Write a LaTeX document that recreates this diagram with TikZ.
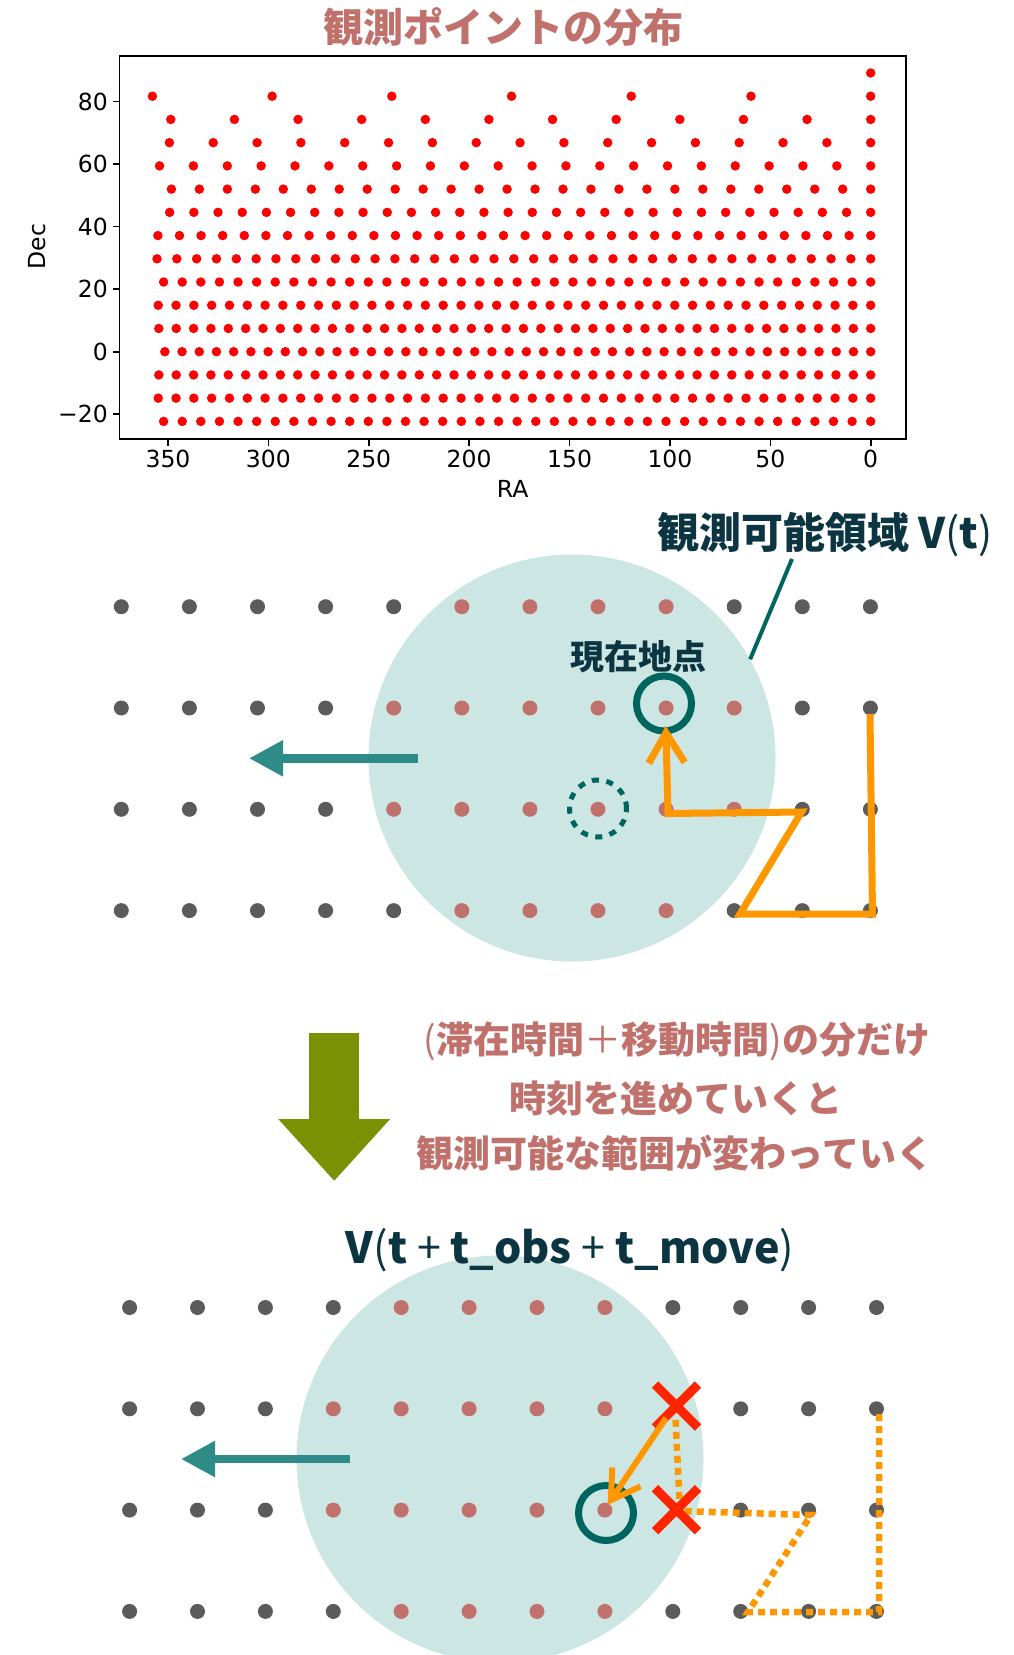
\documentclass[tikz,border=0pt]{standalone}
\usepackage{fontspec}
\usetikzlibrary{arrows.meta,shapes.misc}
\newfontfamily\jp{Noto Sans CJK JP}
\newfontfamily\plotfont{DejaVu Sans}
\newcommand\thinch[1]{{\mdseries #1}}
\definecolor{rose}{HTML}{C0716C}
\definecolor{gdot}{HTML}{5B5B5B}
\definecolor{fillc}{HTML}{CCE6E4}
\definecolor{tealarrow}{HTML}{2E8B87}
\definecolor{darktxt}{HTML}{0B3541}
\definecolor{darkteal}{HTML}{00655F}
\definecolor{orng}{HTML}{FF9800}
\definecolor{olivec}{HTML}{7A9103}
\definecolor{xred}{HTML}{FF2400}
\begin{document}
\begin{tikzpicture}[x=1pt,y=-1pt,
  dot/.style={circle, fill=#1, inner sep=0pt, minimum size=15pt},
  visarea/.style={circle, fill=fillc, inner sep=0pt, minimum size=407pt},
  curpos/.style={circle, draw=darkteal, line width=7pt, inner sep=0pt, minimum size=55pt},
  movearrow/.style={tealarrow, line width=8.4pt, -{Triangle[length=34pt,width=34pt]}},
  route/.style={orng, line width=7pt, line join=miter},
  xmark/.style={draw=xred, cross out, line width=9pt, inner sep=0pt, minimum size=34pt},
  jptitle/.style={font=\jp\bfseries\fontsize{40pt}{48pt}\selectfont, text=rose},
  jpnote/.style={font=\jp\bfseries\fontsize{37pt}{44pt}\selectfont, text=rose},
  darklabel/.style={font=\jp\bfseries\fontsize{#1}{#1}\selectfont, text=darktxt},
  ticklab/.style={font=\plotfont\fontsize{23.5pt}{28pt}\selectfont, inner sep=0pt}
]
\useasboundingbox (0,0) rectangle (1014,1655);
\begin{scope}
\clip (0,0) rectangle (1014,1655);

% ---------- title ----------
\node[jptitle] (title) at (503,27) {観測ポイントの分布};

% ---------- scatter plot ----------
\foreach \k in {-3,...,12}{
  \pgfmathsetmacro\dec{7.43*\k}
  \pgfmathsetmacro\st{8.575/cos(\dec)}
  \pgfmathtruncatemacro\n{359.99/\st}
  \foreach \i in {0,...,\n}{
    \fill[red] ({870.7-2.0077*\i*\st},{351.7-3.126*\dec}) circle (4.75pt);
  }
}
\draw[black, line width=1.6pt] (119.6,55.7) rectangle (906,438.7);
\foreach \ra in {0,50,...,350}{
  \draw[black, line width=1.6pt] ({870.7-2.0077*\ra},438.7) -- ({870.7-2.0077*\ra},445.7);
  \node[ticklab] at ({870.7-2.0077*\ra},459.3) {\ra};
}
\foreach \d/\t in {80/80,60/60,40/40,20/20,0/0,-20/−20}{
  \draw[black, line width=1.6pt] (112.6,{351.7-3.126*\d}) -- (119.6,{351.7-3.126*\d});
  \node[ticklab, anchor=east] at (108,{351.7-3.126*\d}) {\t};
}
\node[ticklab] (ralab) at (512.6,489.3) {RA};
\node[ticklab, rotate=90] (declab) at (36.8,246.7) {Dec};

% ---------- diagram 1 ----------
\node[visarea] (vis1) at (572,758) {};
\foreach \r/\cmin/\cmax in {0/5/8,1/4/9,2/4/9,3/5/8}{
  \foreach \c in {0,...,11}{
    \ifnum\c<\cmin\relax\def\col{gdot}\else\ifnum\c>\cmax\relax\def\col{gdot}\else\def\col{rose}\fi\fi
    \node[dot=\col] (a-\c-\r) at ({121.3+68.1*\c},{606.7+101.3*\r}) {};
  }
}
\node[darklabel=42pt] (lab1) at (825,535) {観測可能領域 V\thinch{(}t\thinch{)}};
\coordinate (lab1end) at (792,559);
\draw[darkteal, line width=4pt] (lab1end) -- (vis1.29);
\node[darklabel=34pt] (curlab) at (638,657) {現在地点};
\coordinate (ta1s) at (418,758.3);
\coordinate (ta1e) at (249,758.3);
\draw[movearrow] (ta1s) -- (ta1e);
\node[curpos] (cur1) at (664,703.5) {};
\node[circle, draw=darkteal, line width=5pt, dash pattern=on 7pt off 7.6pt, inner sep=0pt, minimum size=57pt] (prev1) at (598,808.5) {};
\coordinate (p1) at (870,714);
\coordinate (p2) at (872.5,914);
\coordinate (p3) at (740,914);
\coordinate (p4) at (801.5,812);
\coordinate (p5) at (668,813.5);
\coordinate (p6) at (665.8,726);
\draw[route, -{Straight Barb[length=30pt,width=36pt]}] (p1) -- (p2) -- (p3) -- (p4) -- (p5) -- (p6);

% ---------- transition ----------
\coordinate (oa1) at (334.2,1033.3);
\coordinate (oa2) at (334.2,1181);
\draw[olivec, line width=50.4pt, -{Triangle[length=62pt,width=108pt]}] (oa1) -- (oa2);
\node[jpnote] (n1) at (677,1041.7) {\thinch{(}滞在時間\thinch{＋}移動時間\thinch{)}の分だけ};
\node[jpnote] (n2) at (676,1098) {時刻を進めていくと};
\node[jpnote] (n3) at (675,1153) {観測可能な範囲が変わっていく};

% ---------- diagram 2 ----------
\node[visarea] (vis2) at (500,1459) {};
\node[darklabel=43pt] (lab2) at (570,1250) {V\thinch{(}t \thinch{+} t\_obs \thinch{+} t\_move\thinch{)}};
\foreach \r/\cmin/\cmax/\sk in {0/4/7/99,1/3/7/8,2/3/7/8,3/4/7/99}{
  \foreach \c in {0,...,11}{
    \ifnum\c=\sk\relax\else
      \ifnum\c<\cmin\relax\def\col{gdot}\else\ifnum\c>\cmax\relax\def\col{gdot}\else\def\col{rose}\fi\fi
      \node[dot=\col] (b-\c-\r) at ({129.6+67.9*\c},{1307.5+101.3*\r}) {};
    \fi
  }
}
\coordinate (ta2s) at (350.4,1459);
\coordinate (ta2e) at (181,1459);
\draw[movearrow] (ta2s) -- (ta2e);
\coordinate (q1) at (879,1414);
\coordinate (q2) at (879,1612);
\coordinate (q3) at (748,1612);
\coordinate (q4) at (811,1515);
\coordinate (q5) at (680,1511);
\coordinate (q6) at (675.5,1418);
\draw[orng, line width=6.5pt, dash pattern=on 7pt off 5pt] (q1) -- (q2) -- (q3) -- (q4) -- (q5) -- (q6);
\node[curpos] (cur2) at (606,1513) {};
\node[xmark] (x1) at (676.5,1406) {};
\node[xmark] (x2) at (676.5,1509.7) {};
\coordinate (r1) at (666,1418);
\coordinate (r2) at (607.6,1505);
\draw[orng, line width=6pt, -{Straight Barb[length=28pt,width=34pt]}] (r1) -- (r2);
\end{scope}
\end{tikzpicture}
\end{document}
